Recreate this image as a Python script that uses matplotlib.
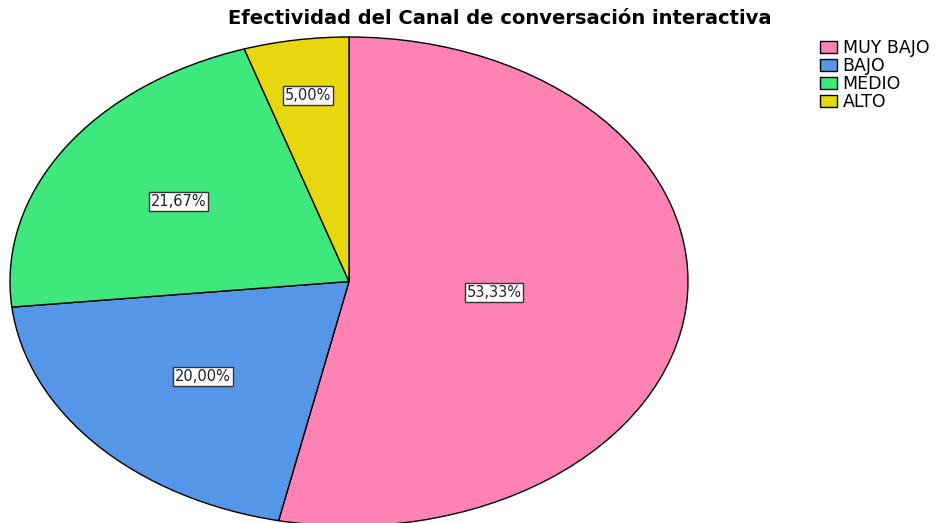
import matplotlib
matplotlib.use("Agg")
import matplotlib.pyplot as plt
import numpy as np

plt.rcParams['font.family'] = ['DejaVu Sans']

categories = ["MUY BAJO", "BAJO", "MEDIO", "ALTO"]
values = [53.33, 20.00, 21.67, 5.00]
colors = ["#FF82B4", "#5596E6", "#3EE87D", "#E6D70F"]
label_dist = [0.43, 0.58, 0.60, 0.77]

W, H = 939, 523
fig = plt.figure(figsize=(W / 100, H / 100), dpi=100)
ax = fig.add_axes([10 / W, (H - 526) / H, 678 / W, 489 / H])

wedges, texts, autotexts = ax.pie(
    values, colors=colors, startangle=90, counterclock=False,
    autopct=lambda p: f"{p:.2f}%".replace(".", ","), pctdistance=0.5,
    wedgeprops=dict(edgecolor="black", linewidth=1.0),
    textprops=dict(fontsize=10.5, color="#222222"),
)
ax.set_aspect("auto")
ax.set_xlim(-1, 1)
ax.set_ylim(-1, 1)
ax.axis("off")

for w, t, d in zip(wedges, autotexts, label_dist):
    ang = np.deg2rad((w.theta1 + w.theta2) / 2)
    t.set_position((d * np.cos(ang), d * np.sin(ang)))
    t.set_bbox(dict(boxstyle="square,pad=0.12", facecolor="white",
                    edgecolor="#333333", linewidth=1.0))

fig.text(500 / W, 1 - 19 / H, "Efectividad del Canal de conversación interactiva",
         ha="center", va="center", fontsize=14, fontweight="bold")

fig.legend(wedges, categories, loc="upper left",
           bbox_to_anchor=(813 / W, 1 - 32 / H), frameon=False,
           fontsize=12.5, handlelength=1.0, handleheight=0.75,
           handletextpad=0.3, labelspacing=0.0, borderaxespad=0)

fig.savefig("out.png", dpi=100)
